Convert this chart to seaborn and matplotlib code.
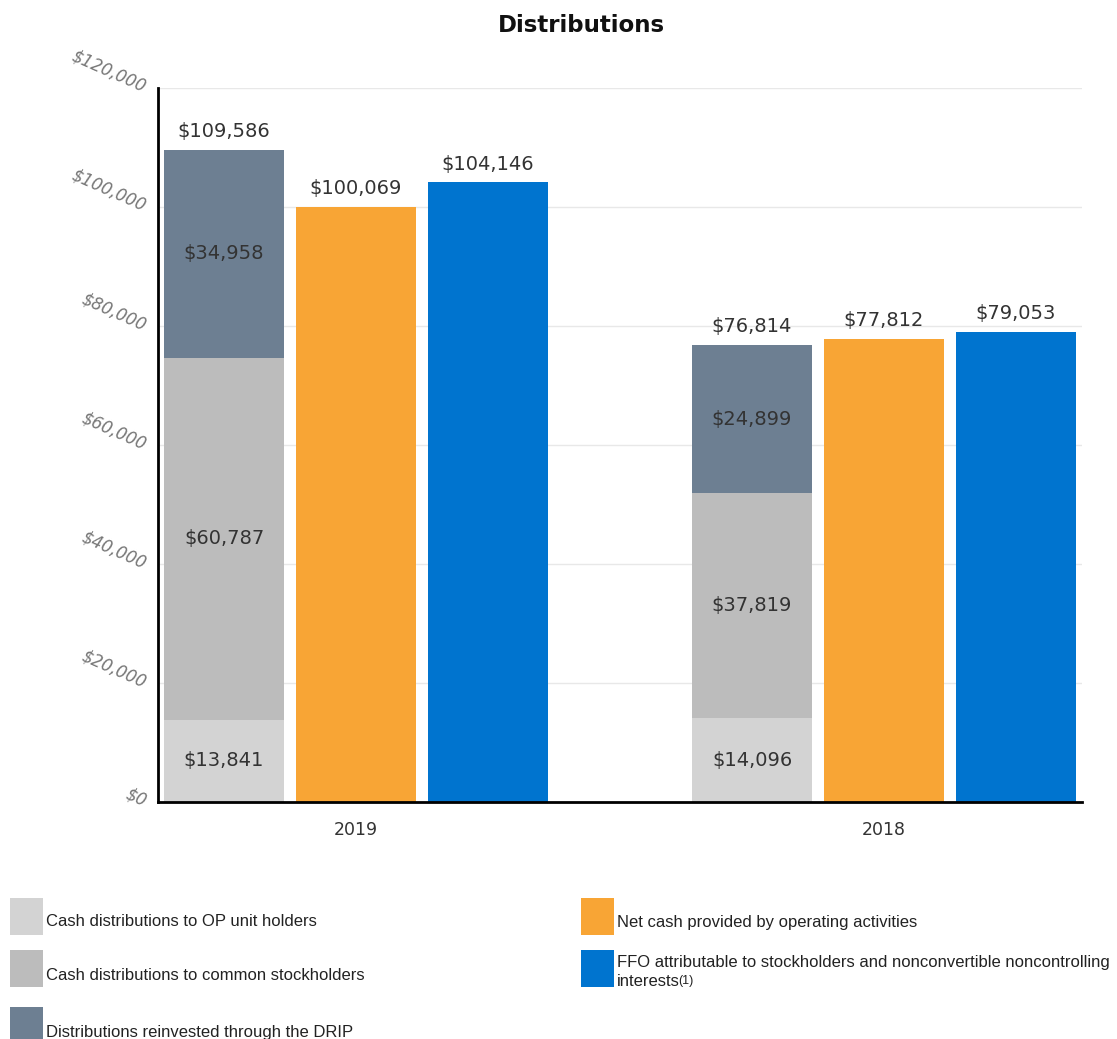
import matplotlib
matplotlib.use("Agg")
import matplotlib.pyplot as plt
import seaborn as sns
import pandas as pd
from matplotlib.patches import Rectangle

# ---- data ----
years = ["2019", "2018"]
op_unit_holders = [13841, 14096]
common_stockholders = [60787, 37819]
drip_reinvested = [34958, 24899]
net_cash_operating = [100069, 77812]
ffo_attributable = [104146, 79053]
y_ticks = [0, 20000, 40000, 60000, 80000, 100000, 120000]

slots = ["stack", "ncash", "ffo"]
legend_labels = [
    "Cash distributions to OP unit holders",
    "Cash distributions to common stockholders",
    "Distributions reinvested through the DRIP",
    "Net cash provided by operating activities",
    "FFO attributable to stockholders and nonconvertible noncontrolling",
]

C_OP = "#d3d3d3"
C_COMMON = "#bcbcbc"
C_DRIP = "#6d7f92"
C_ORANGE = "#f8a535"
C_BLUE = "#0074cf"
TXT = "#333333"

sns.set_theme(style="white")
plt.rcParams["font.family"] = ["DejaVu Sans"]

W, H = 1117, 1039
fig = plt.figure(figsize=(W / 100, H / 100), dpi=100)
ax = fig.add_axes([158 / W, 1 - 802 / H, (1082 - 158) / W, (802 - 88) / H])

totals = [a + b + c for a, b, c in zip(op_unit_holders, common_stockholders, drip_reinvested)]
lower_two = [a + b for a, b in zip(op_unit_holders, common_stockholders)]

def layer(stack_vals, ncash_vals, ffo_vals, colors):
    rows = []
    for i, yr in enumerate(years):
        rows.append((yr, "stack", stack_vals[i]))
        rows.append((yr, "ncash", ncash_vals[i]))
        rows.append((yr, "ffo", ffo_vals[i]))
    df = pd.DataFrame(rows, columns=["year", "slot", "value"])
    sns.barplot(data=df, x="year", y="value", hue="slot", order=years,
                hue_order=slots, palette=colors, width=0.75, gap=0.084,
                saturation=1, linewidth=0, errorbar=None, legend=False, ax=ax)

zeros = [0, 0]
layer(totals, net_cash_operating, ffo_attributable, [C_DRIP, C_ORANGE, C_BLUE])
layer(lower_two, zeros, zeros, [C_COMMON, C_COMMON, C_COMMON])
layer(op_unit_holders, zeros, zeros, [C_OP, C_OP, C_OP])

cont = ax.containers[:3]
def centers(c):
    return [b.get_x() + b.get_width() / 2 for b in c]
xs_stack = centers(cont[0])
xs_nc = centers(cont[1])
xs_ffo = centers(cont[2])

fs = 14
def top_label(x, v):
    ax.annotate(f"${v:,}", xy=(x, v), xytext=(0, 13), textcoords="offset points",
                ha="center", va="center", fontsize=fs, color=TXT)

for i in range(len(years)):
    top_label(xs_stack[i], totals[i])
    top_label(xs_nc[i], net_cash_operating[i])
    top_label(xs_ffo[i], ffo_attributable[i])
    ax.text(xs_stack[i], op_unit_holders[i] / 2, f"${op_unit_holders[i]:,}",
            ha="center", va="center", fontsize=fs, color=TXT)
    ax.text(xs_stack[i], op_unit_holders[i] + common_stockholders[i] / 2,
            f"${common_stockholders[i]:,}", ha="center", va="center", fontsize=fs, color=TXT)
    ax.text(xs_stack[i], lower_two[i] + drip_reinvested[i] / 2,
            f"${drip_reinvested[i]:,}", ha="center", va="center", fontsize=fs, color=TXT)

ax.set_xlim(-0.375, 1.375)
ax.set_ylim(0, 120000)
ax.set_yticks(y_ticks)
ax.set_yticklabels([f"${t:,}" for t in y_ticks], rotation=-24, rotation_mode="anchor",
                   ha="right", va="center", fontsize=12, fontstyle="italic", color="#777777")
ax.tick_params(axis="y", length=0, pad=9)
ax.tick_params(axis="x", length=0, pad=14, labelsize=12.5, labelcolor=TXT)
ax.set_xlabel("")
ax.set_ylabel("")
ax.grid(axis="y", color="#e8e8e8", linewidth=1)
ax.set_axisbelow(True)
for s in ["top", "right"]:
    ax.spines[s].set_visible(False)
for s in ["left", "bottom"]:
    ax.spines[s].set_color("black")
    ax.spines[s].set_linewidth(2)

fig.text(581 / W, 1 - 25 / H, "Distributions", ha="center", va="center",
         fontsize=16.5, fontweight="bold", color="#111111")

# legend
leg_colors = [C_OP, C_COMMON, C_DRIP, C_ORANGE, C_BLUE]
leg_pos = [(10, 898), (10, 950), (10, 1007), (581, 898), (581, 950)]
text_cy = [921, 975, 1033, 922, 963]
for k, (col, (x0, y0)) in enumerate(zip(leg_colors, leg_pos)):
    fig.patches.append(Rectangle((x0 / W, 1 - (y0 + 37) / H), 33 / W, 37 / H,
                                 transform=fig.transFigure, facecolor=col, edgecolor="none"))
    fig.text((x0 + 36) / W, 1 - text_cy[k] / H, legend_labels[k],
             ha="left", va="center", fontsize=12, family="Liberation Sans", color="#222222")
t2 = fig.text((581 + 36) / W, 1 - 981 / H, "interests", ha="left", va="center",
              fontsize=12, family="Liberation Sans", color="#222222")
ax.annotate("(1)", xy=(1, 0.5), xycoords=t2, xytext=(-1, 0), textcoords="offset points",
            ha="left", va="center",
            fontsize=9, family="Liberation Sans", color="#222222", annotation_clip=False)

fig.savefig("out.png", dpi=100)
